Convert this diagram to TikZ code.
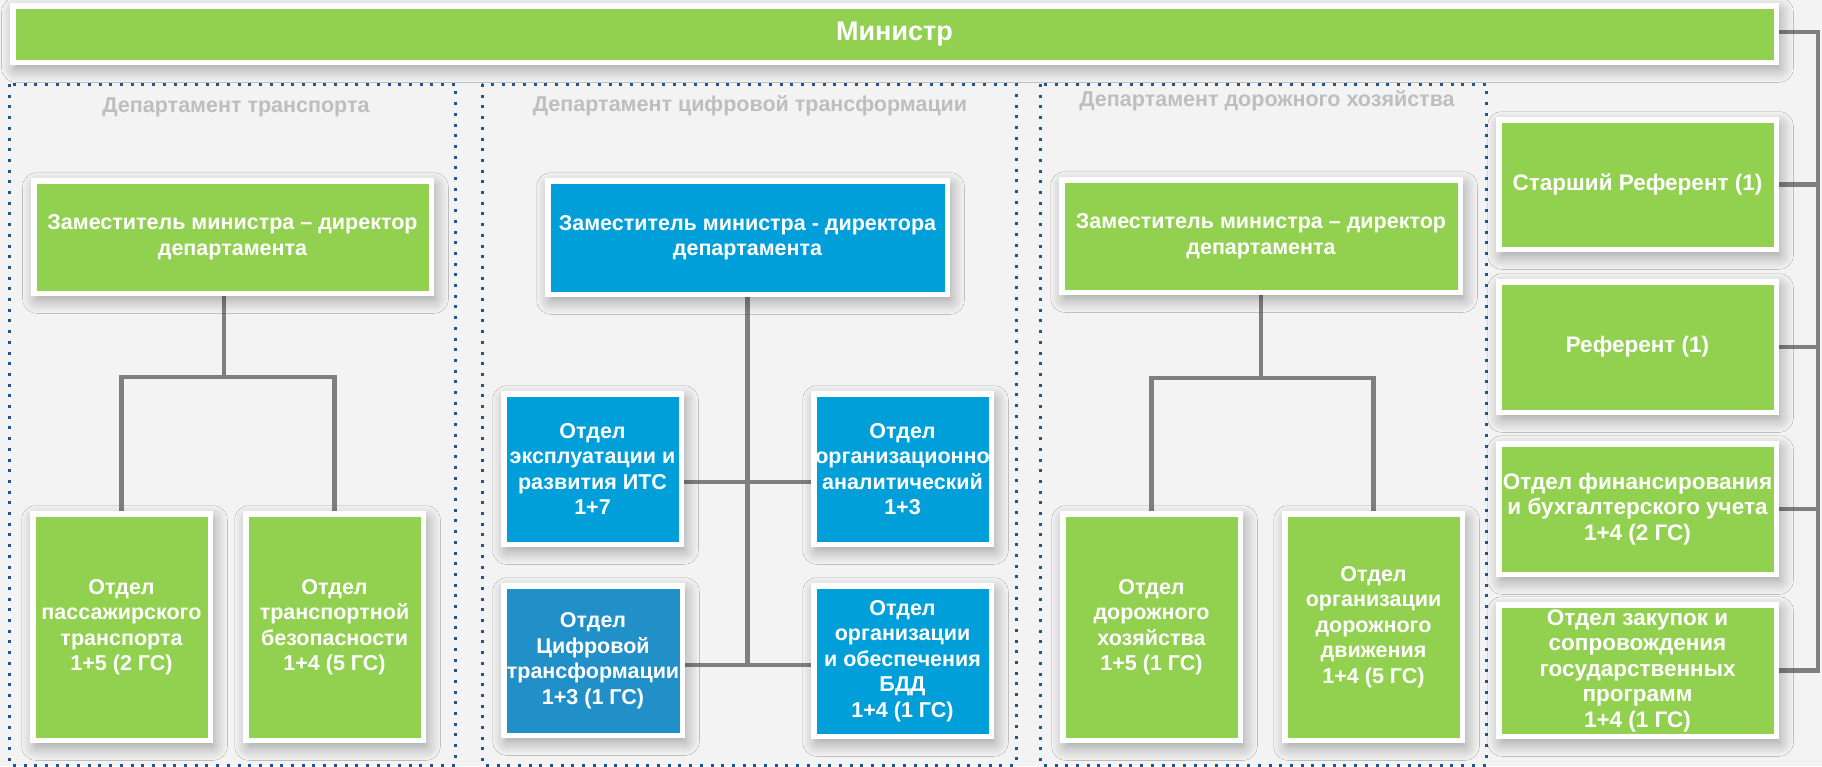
\documentclass[tikz,border=0pt]{standalone}
\usepackage{fontspec}
\setmainfont{Liberation Sans}
\usetikzlibrary{shadows.blur}
\definecolor{mgreen}{HTML}{92D050}
\definecolor{mblue}{HTML}{009FDA}
\definecolor{mblue2}{HTML}{2290C8}
\definecolor{conncol}{HTML}{7F7F7F}
\definecolor{dotcol}{HTML}{1F5591}
\definecolor{titlecol}{HTML}{BEBEBE}
\definecolor{bgcol}{HTML}{F3F3F3}
\pgfdeclarelayer{bg}
\pgfsetlayers{bg,main}
\begin{document}
\begin{tikzpicture}[x=1pt,y=-1pt,
  obox/.style={draw=white, line width=5.5pt, inner sep=0pt, align=center, text=white,
     font=\bfseries\fontsize{21.5}{25.5}\selectfont,
     blur shadow={shadow xshift=3pt, shadow yshift=-6pt, shadow blur radius=14pt, shadow blur steps=12, shadow opacity=38}},
  gbox/.style={obox, fill=mgreen},
  bbox/.style={obox, fill=mblue},
  dim/.style 2 args={minimum width=#1pt-5.5pt, minimum height=#2pt-5.5pt},
  conn/.style={draw=conncol, line width=4.5pt},
  deptframe/.style={draw=dotcol, line width=3pt, dash pattern=on 3pt off 7.7pt},
  depttitle/.style={text=titlecol, font=\bfseries\fontsize{21.5}{25}\selectfont},
  rfont/.style={font=\bfseries\fontsize{22.5}{25.5}\selectfont},
]
\useasboundingbox (0,0) rectangle (1822,766);

% boxes
\node[gbox, dim={1769}{62}, font=\bfseries\fontsize{27}{30}\selectfont] (min) at (894.5,34) {Министр};

\node[depttitle] (t1) at (236,107) {Департамент транспорта};
\node[depttitle] (t2) at (750,106) {Департамент цифровой трансформации};
\node[depttitle] (t3) at (1267,101) {Департамент дорожного хозяйства};

\node[gbox, dim={403}{118}] (z1) at (232.5,237) {Заместитель министра – директор\\департамента};
\node[bbox, dim={405}{119}] (z2) at (747.5,237.5) {Заместитель министра - директора\\департамента};
\node[gbox, dim={404}{118}] (z3) at (1261,236) {Заместитель министра – директор\\департамента};

\node[gbox, dim={183}{232}] (a1) at (121.5,627) {Отдел\\пассажирского\\транспорта\\1+5 (2 ГС)};
\node[gbox, dim={183}{232}] (a2) at (334.5,627) {Отдел\\транспортной\\безопасности\\1+4 (5 ГС)};

\node[bbox, dim={183}{156}] (b1) at (592.5,469) {Отдел\\эксплуатации и\\развития ИТС\\1+7};
\node[bbox, dim={183}{156}] (b2) at (902.5,469) {Отдел\\организационно\\аналитический\\1+3};
\node[obox, fill=mblue2, dim={184}{155}] (b3) at (593,660.5) {Отдел\\Цифровой\\трансформации\\1+3 (1 ГС)};
\node[bbox, dim={183}{156}] (b4) at (902.5,661) {Отдел\\организации\\и обеспечения\\БДД\\1+4 (1 ГС)};

\node[gbox, dim={183}{232}] (c1) at (1151.5,627) {Отдел\\дорожного\\хозяйства\\1+5 (1 ГС)};
\node[gbox, dim={183}{232}] (c2) at (1373.5,627) {Отдел\\организации\\дорожного\\движения\\1+4 (5 ГС)};

\node[gbox, rfont, dim={283}{135}] (r1) at (1637.5,184.5) {Старший Референт (1)};
\node[gbox, rfont, dim={283}{136}] (r2) at (1637.5,347) {Референт (1)};
\node[gbox, rfont, dim={283}{136}] (r3) at (1637.5,509) {Отдел финансирования\\и бухгалтерского учета\\1+4 (2 ГС)};
\node[gbox, rfont, dim={283}{137}] (r4) at (1637.5,670.5) {Отдел закупок и\\сопровождения\\государственных\\программ\\1+4 (1 ГС)};

\coordinate (j1) at (224,377);
\coordinate (j2) at (747,665);
\coordinate (h2) at (747,482);
\coordinate (j3) at (1261,378);
\coordinate (rv) at (1818,32);

\begin{pgfonlayer}{bg}
\fill[bgcol] (0,0) rectangle (1822,766);
\draw[deptframe] (9,84) rectangle (455,765);
\draw[deptframe] (482,84) rectangle (1016,765);
\draw[deptframe] (1040,84) rectangle (1486,765);

\draw[conn] (z1.south -| j1) -- (j1);
\draw[conn] (a1.north) -- (a1.north |- j1) -- (a2.north |- j1) -- (a2.north);

\draw[conn] (z2.south) -- (z2.south |- j2);
\draw[conn] (b1.east |- h2) -- (b2.west |- h2);
\draw[conn] (b3.east |- j2) -- (b4.west |- j2);

\draw[conn] (z3.south) -- (z3.south |- j3);
\draw[conn] (c1.north) -- (c1.north |- j3) -- (c2.north |- j3) -- (c2.north);

\draw[conn] (min.east |- rv) -- (rv) -- (rv |- r4.east) -- (r4.east);
\draw[conn] (r1.east) -- (r1.east -| rv);
\draw[conn] (r2.east) -- (r2.east -| rv);
\draw[conn] (r3.east) -- (r3.east -| rv);
\end{pgfonlayer}
\end{tikzpicture}
\end{document}
